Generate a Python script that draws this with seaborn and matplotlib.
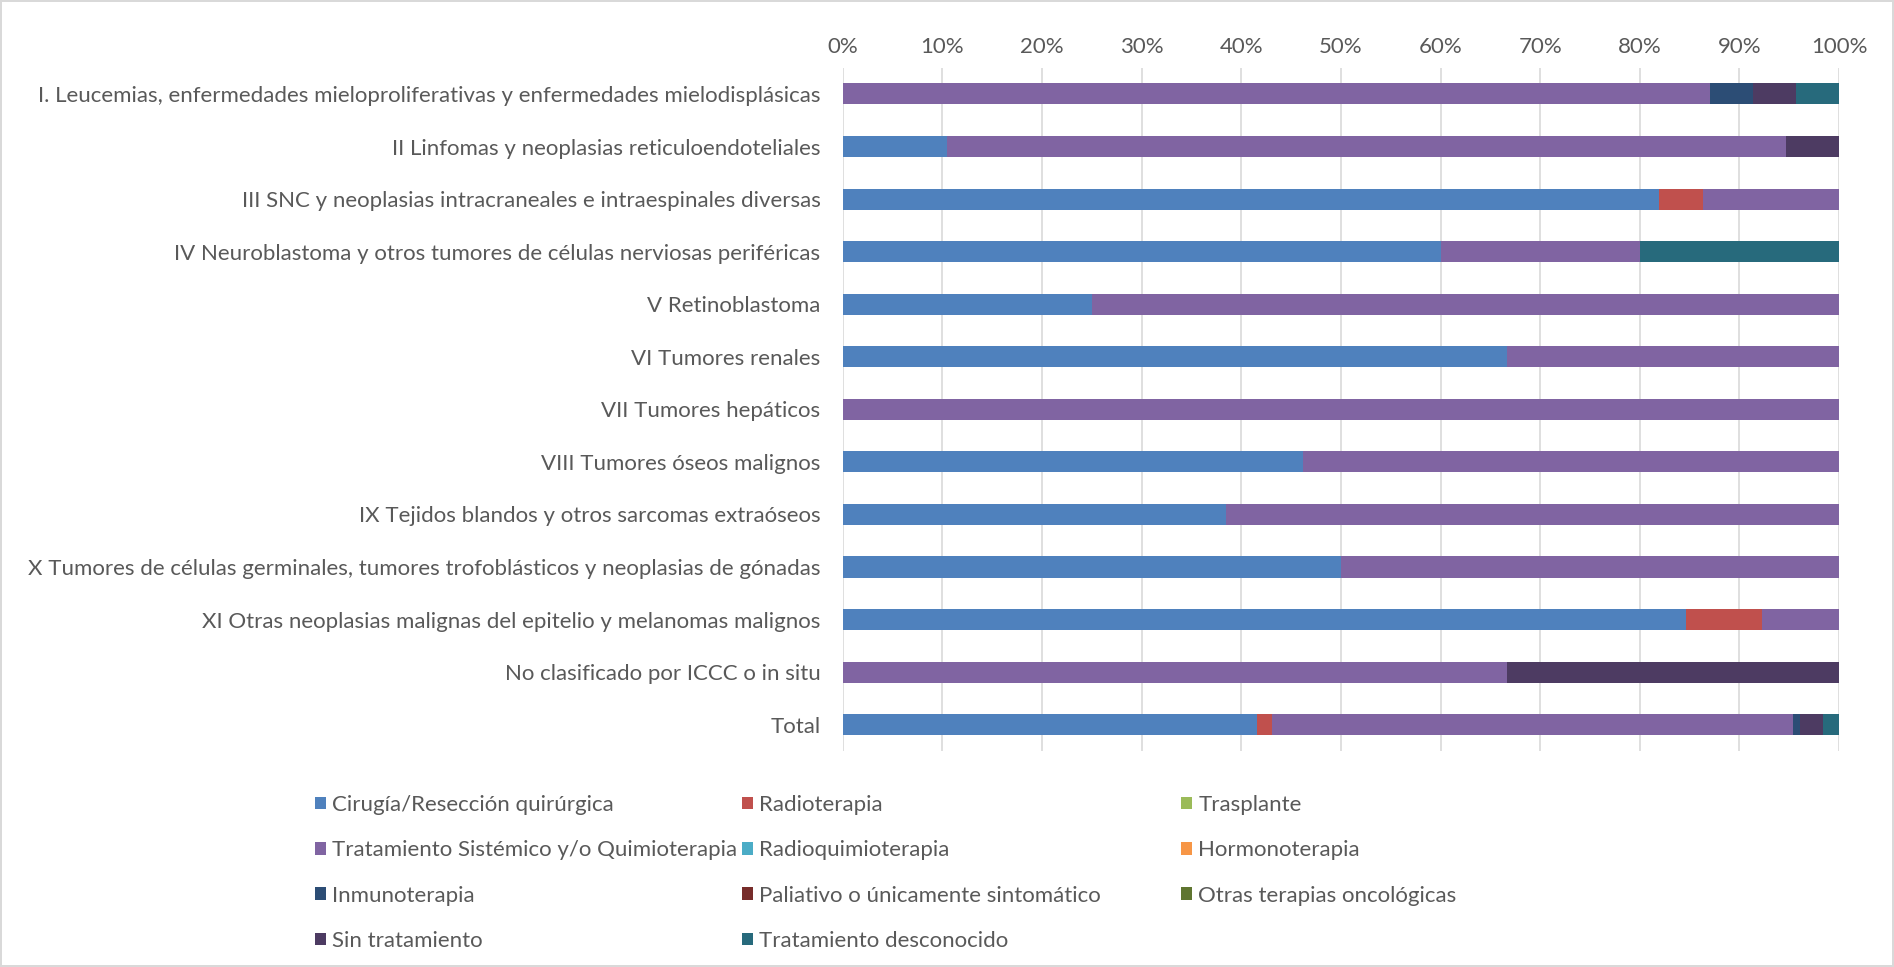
import numpy as np
import pandas as pd
import seaborn as sns
from matplotlib import pyplot as plt
from matplotlib.patches import Patch
from matplotlib.ticker import PercentFormatter

categories = [
    "I. Leucemias, enfermedades mieloproliferativas y enfermedades mielodisplásicas",
    "II Linfomas y neoplasias reticuloendoteliales",
    "III SNC y neoplasias intracraneales e intraespinales diversas",
    "IV Neuroblastoma y otros tumores de células nerviosas periféricas",
    "V Retinoblastoma",
    "VI Tumores renales",
    "VII Tumores hepáticos",
    "VIII Tumores óseos malignos",
    "IX Tejidos blandos y otros sarcomas extraóseos",
    "X Tumores de células germinales, tumores trofoblásticos y neoplasias de gónadas",
    "XI Otras neoplasias malignas del epitelio y melanomas malignos",
    "No clasificado por ICCC o in situ",
    "Total",
]

# shares (%), one list per treatment
cirugia = [0, 10.5, 81.8, 60, 25, 66.7, 0, 46.2, 38.5, 50, 84.6, 0, 41.6]
radioterapia = [0, 0, 4.5, 0, 0, 0, 0, 0, 0, 0, 7.7, 0, 1.5]
trasplante = [0] * 13
sistemico = [87.0, 84.2, 13.6, 20, 75, 33.3, 100, 53.8, 61.5, 50, 7.7, 66.7, 52.3]
radioquimio = [0] * 13
hormonoterapia = [0] * 13
inmunoterapia = [4.35, 0, 0, 0, 0, 0, 0, 0, 0, 0, 0, 0, 0.7]
paliativo = [0] * 13
otras = [0] * 13
sin_tratamiento = [4.35, 5.3, 0, 0, 0, 0, 0, 0, 0, 0, 0, 33.3, 2.3]
desconocido = [4.3, 0, 0, 20, 0, 0, 0, 0, 0, 0, 0, 0, 1.6]

series = {
    "Cirugía/Resección quirúrgica": (cirugia, "#4F81BD"),
    "Radioterapia": (radioterapia, "#C0504D"),
    "Trasplante": (trasplante, "#9BBB59"),
    "Tratamiento Sistémico y/o Quimioterapia": (sistemico, "#8064A2"),
    "Radioquimioterapia": (radioquimio, "#4BACC6"),
    "Hormonoterapia": (hormonoterapia, "#F79646"),
    "Inmunoterapia": (inmunoterapia, "#2C4D75"),
    "Paliativo o únicamente sintomático": (paliativo, "#772C2A"),
    "Otras terapias oncológicas": (otras, "#5F7530"),
    "Sin tratamiento": (sin_tratamiento, "#4D3B62"),
    "Tratamiento desconocido": (desconocido, "#276A7C"),
}

TEXT = "#595959"
FONT = 16

sns.set_style("white")
plt.rcParams["font.family"] = ["Lato", "DejaVu Sans"]

df = pd.DataFrame({name: vals for name, (vals, _) in series.items()}, index=categories)
df = df.div(df.sum(axis=1), axis=0) * 100
cum = df.cumsum(axis=1)

fig = plt.figure(figsize=(18.94, 9.67), dpi=100)
fig.patch.set_edgecolor("#D9D9D9")
fig.patch.set_linewidth(1.5)
ax = fig.add_axes([0.445, 0.2234, 0.526, 0.7066])

# stacked bars: draw cumulative totals from the last series back to the first
names = list(series)
for name in reversed(names):
    plot_df = pd.DataFrame({"category": categories, "value": cum[name].values})
    sns.barplot(
        ax=ax, data=plot_df, x="value", y="category", orient="h",
        color=series[name][1], width=0.4, saturation=1, edgecolor="none",
        order=categories,
    )

ax.set_xlim(0, 100)
ax.set_ylim(12.5, -0.5)
ax.set(xlabel="", ylabel="")
ax.xaxis.set_major_locator(plt.MultipleLocator(10))
ax.xaxis.set_major_formatter(PercentFormatter(decimals=0))
ax.xaxis.tick_top()
ax.grid(axis="x", color="#D9D9D9", linewidth=1.2)
ax.set_axisbelow(True)
for side in ax.spines.values():
    side.set_visible(False)
ax.tick_params(axis="x", length=0, pad=8, labelsize=FONT, labelcolor=TEXT)
ax.tick_params(axis="y", length=0, pad=16, labelsize=FONT, labelcolor=TEXT)

# Excel-style legend, 3 columns filled row by row
columns = [
    ["Cirugía/Resección quirúrgica", "Tratamiento Sistémico y/o Quimioterapia",
     "Inmunoterapia", "Sin tratamiento"],
    ["Radioterapia", "Radioquimioterapia", "Paliativo o únicamente sintomático",
     "Tratamiento desconocido"],
    ["Trasplante", "Hormonoterapia", "Otras terapias oncológicas"],
]
col_x = [0.1662, 0.3915, 0.6236]
for x, col in zip(col_x, columns):
    handles = [Patch(facecolor=series[n][1], edgecolor="none") for n in col]
    fig.legend(
        handles, col, loc="upper left", bbox_to_anchor=(x, 0.178),
        frameon=False, fontsize=FONT, labelcolor=TEXT, borderpad=0,
        borderaxespad=0, handlelength=0.5, handleheight=0.5,
        handletextpad=0.28, labelspacing=1.14,
    )

fig.savefig("out.png", dpi=100)
